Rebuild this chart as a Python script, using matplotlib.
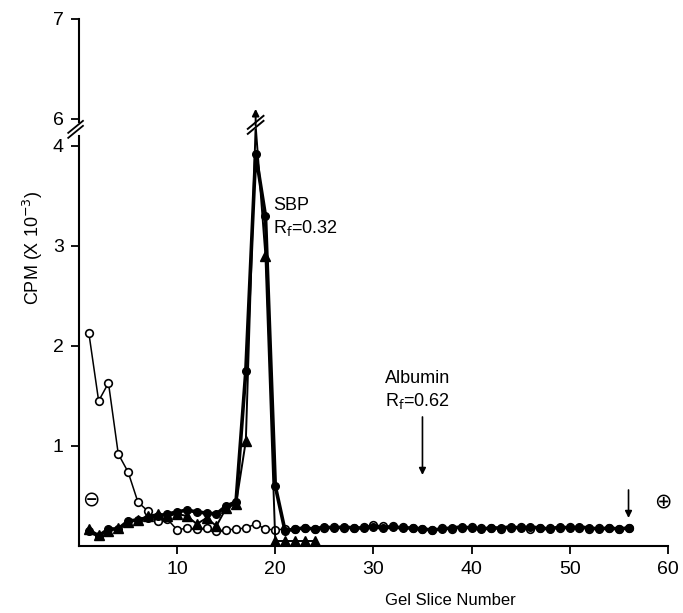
import matplotlib.pyplot as plt
import numpy as np

plt.rcParams['font.family'] = ['Liberation Sans', 'DejaVu Sans']

# CPM x 10^-3 per gel slice
slices = np.arange(1, 57)
open_cpm = [2.13, 1.45, 1.63, 0.92, 0.74, 0.44, 0.35, 0.25, 0.27, 0.16,
            0.18, 0.17, 0.18, 0.15, 0.16, 0.17, 0.18, 0.22, 0.17, 0.16,
            0.17, 0.17, 0.18, 0.17, 0.18, 0.19, 0.18, 0.18, 0.19, 0.21,
            0.20, 0.20, 0.19, 0.18, 0.17, 0.16, 0.18, 0.17, 0.18, 0.19,
            0.18, 0.18, 0.17, 0.18, 0.19, 0.17, 0.18, 0.18, 0.18, 0.19,
            0.18, 0.17, 0.18, 0.18, 0.17, 0.18]
filled_cpm = [0.15, 0.10, 0.17, 0.17, 0.25, 0.26, 0.28, 0.30, 0.32, 0.34,
              0.36, 0.34, 0.33, 0.32, 0.40, 0.44, 1.75, 3.92, 3.30, 0.60,
              0.15, 0.17, 0.18, 0.17, 0.19, 0.18, 0.19, 0.18, 0.18, 0.19,
              0.18, 0.19, 0.18, 0.18, 0.17, 0.16, 0.17, 0.18, 0.19, 0.18,
              0.17, 0.18, 0.18, 0.19, 0.18, 0.19, 0.18, 0.17, 0.19, 0.18,
              0.19, 0.18, 0.17, 0.18, 0.17, 0.18]
tri_slices = np.arange(1, 25)
tri_cpm = [0.17, 0.11, 0.15, 0.18, 0.24, 0.26, 0.30, 0.32, 0.30, 0.32,
           0.30, 0.22, 0.28, 0.20, 0.38, 0.42, 1.05, 4.20, 2.90, 0.05,
           0.05, 0.05, 0.05, 0.05]
peak_slice = 18  # triangle peak runs off scale

# broken y axis: 4 -> 6
y_tick_values = [1, 2, 3, 4, 6, 7]
break_at = 4
break_gap = 0.27


def to_axis(v):
    v = np.asarray(v, float)
    return np.where(v >= 6, v - 6 + break_at + break_gap, v)


fig = plt.figure(figsize=(6.83, 6.13), dpi=100)
ax = fig.add_axes([0.1157, 0.1093, 0.862, 0.86])

ax.plot(slices, open_cpm, '-o', color='k', lw=1.1, ms=5.5, mfc='white',
        mew=1.2, zorder=3)
ax.plot(tri_slices, tri_cpm, '-^', color='k', lw=1.4, ms=6.5,
        markevery=[i for i in range(len(tri_cpm)) if tri_slices[i] != peak_slice],
        zorder=4)
ax.plot(slices, filled_cpm, '-o', color='k', lw=2.6, ms=5.5, zorder=5)

# off-scale break on the peak and arrow
px = peak_slice
ax.plot([px - 0.8, px + 0.8], [4.12 + 0.025, 4.25 + 0.025], color='white', lw=4, zorder=6)
for dy in (0.0, 0.05):
    ax.plot([px - 0.8, px + 0.8], [4.12 + dy, 4.25 + dy], color='k', lw=1.4, zorder=7)
ax.annotate('', xy=(px, 4.37), xytext=(px, 4.2),
            arrowprops=dict(arrowstyle='-|>', color='k', lw=1.4,
                            mutation_scale=10, shrinkA=0, shrinkB=0), zorder=7)

ax.set_xlim(0, 60)
ax.set_ylim(0, to_axis(7))
ax.set_xticks([10, 20, 30, 40, 50, 60])
ax.set_yticks(to_axis(y_tick_values))
ax.set_yticklabels([str(v) for v in y_tick_values])
ax.tick_params(direction='out', length=6, width=1.3, labelsize=14, pad=5)

for s in ('top', 'right'):
    ax.spines[s].set_visible(False)
for s in ('left', 'bottom'):
    ax.spines[s].set_linewidth(1.5)
ax.spines['left'].set_bounds(0, 4.1)
ax.plot([0, 0], [4.24, to_axis(7)], color='k', lw=1.5, clip_on=False)
for dy in (0.0, 0.05):
    ax.plot([-1.1, 0.4], [4.08 + dy, 4.2 + dy], color='k', lw=1.3, clip_on=False)

# annotations
ax.text(19.8, 3.4, 'SBP', fontsize=13, va='center')
ax.text(19.8, 3.18, r'R$_\mathrm{f}$=0.32', fontsize=13, va='center')
ax.text(31.2, 1.67, 'Albumin', fontsize=13, va='center')
ax.text(31.2, 1.45, r'R$_\mathrm{f}$=0.62', fontsize=13, va='center')
ax.annotate('', xy=(35, 0.71), xytext=(35, 1.29),
            arrowprops=dict(arrowstyle='-|>', color='k', lw=1.2,
                            mutation_scale=10, shrinkA=0, shrinkB=0))
ax.annotate('', xy=(56, 0.28), xytext=(56, 0.56),
            arrowprops=dict(arrowstyle='-|>', color='k', lw=1.2,
                            mutation_scale=10, shrinkA=0, shrinkB=0))
ax.text(1.2, 0.46, '\u2296', fontsize=15, ha='center', va='center',
        family='DejaVu Sans')
ax.text(59.5, 0.45, '\u2295', fontsize=15, ha='center', va='center',
        family='DejaVu Sans', clip_on=False)

fig.text(0.048, 0.595, r'CPM (X 10$^{-3}$)', rotation=90, ha='center',
         va='center', fontsize=13)
fig.text(0.659, 0.021, 'Gel Slice Number', ha='center', va='center', fontsize=12)

fig.savefig('out.png', dpi=100)
